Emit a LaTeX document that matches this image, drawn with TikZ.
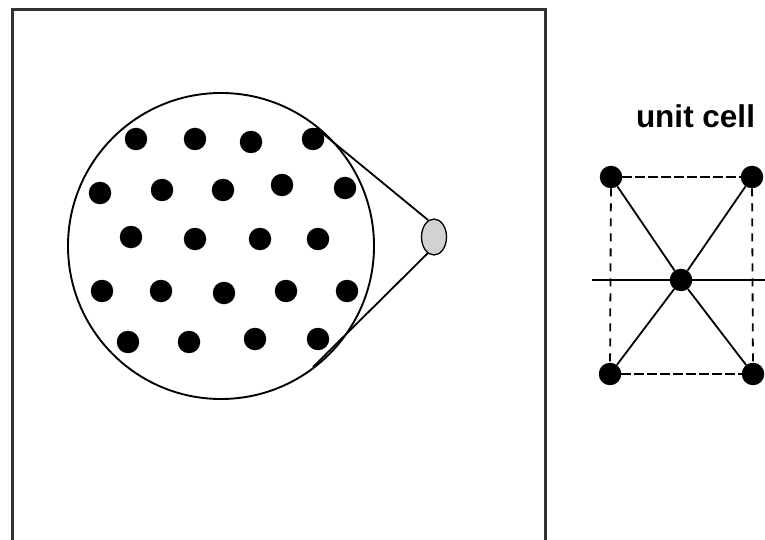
\documentclass[tikz,border=0pt]{standalone}
\usepackage{fontspec}
\setmainfont{Liberation Sans}
\usetikzlibrary{shapes.geometric}
\begin{document}
\begin{tikzpicture}[x=1pt,y=-1pt,
  dot/.style={circle,fill=black,inner sep=0pt,minimum size=22.5pt},
  edge/.style={line width=1.8pt,black},
  dashedge/.style={line width=1.8pt,black,dash pattern=on 8pt off 7pt},
  topdash/.style={line width=1.8pt,black,dash pattern=on 10pt off 3pt},
  frame/.style={line width=2.4pt,black!80}]
\useasboundingbox (0,0) rectangle (765,540);
% frame
\coordinate (fbl) at (12.5,541);
\coordinate (ftl) at (12.5,9.5);
\coordinate (ftr) at (545.5,9.5);
\coordinate (fbr) at (545.5,541);
\draw[frame] (fbl) -- (ftl) -- (ftr) -- (fbr);
% magnified region
\node[circle,draw,line width=1.9pt,minimum size=306pt,inner sep=0pt] (big) at (221,246) {};
% tangent lines to the small region
\coordinate (up1) at (316,128);
\coordinate (up2) at (428,220);
\coordinate (lo1) at (313,367);
\coordinate (lo2) at (429,252);
\draw[edge] (up1) -- (up2);
\draw[edge] (lo1) -- (lo2);
\node[ellipse,draw,line width=1.3pt,fill=gray!35,minimum width=25pt,minimum height=36pt,inner sep=0pt] (spot) at (434,237) {};
% dots in the magnified region
\foreach \n/\x/\y in {a1/136/139, a2/195/139, a3/251/142, a4/313/139,
  b1/100/193, b2/162/190, b3/223/190, b4/282/185, b5/345/188,
  c1/131/237, c2/195/239, c3/260/239, c4/318/239,
  d1/102/291, d2/161/291, d3/224/293, d4/286/291, d5/347/291,
  e1/128/342, e2/189/342, e3/255/339, e4/318/339}
  \node[dot] (\n) at (\x,\y) {};
% unit cell
\node[font=\bfseries\fontsize{31.5}{32}\selectfont,anchor=base,inner sep=0pt] (label) at (695.5,127.5) {unit cell};
\coordinate (hl) at (592,280);
\coordinate (hr) at (765,280);
\draw[edge] (hl) -- (hr);
\node[dot] (tl) at (611,177) {};
\node[dot] (tr) at (752,177) {};
\node[dot] (cc) at (681,280) {};
\node[dot] (bl) at (610,374) {};
\node[dot] (br) at (753,374) {};
\draw[topdash] (tl) -- (tr);
\draw[topdash] (bl) -- (br);
\draw[dashedge] (tl) -- (bl);
\draw[dashedge] (tr) -- (br);
\draw[edge] (tl) -- (cc) -- (br);
\draw[edge] (tr) -- (cc) -- (bl);
\end{tikzpicture}
\end{document}
